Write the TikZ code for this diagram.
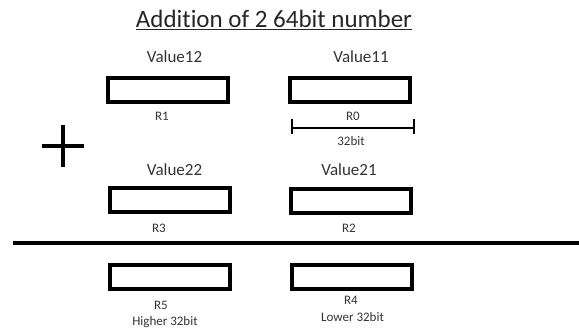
\documentclass[tikz,border=0pt]{standalone}
\usepackage{fontspec}
\setmainfont{Carlito}[Ligatures=NoCommon]
\begin{document}
\begin{tikzpicture}[x=1pt,y=-1pt,
  reg/.style={draw=black,line width=4pt,minimum width=120pt,minimum height=24pt,inner sep=0pt},
  lbl/.style={font=\fontsize{17}{19}\selectfont,text=black!80,inner sep=0pt},
  sml/.style={font=\fontsize{13}{15}\selectfont,text=black!80,inner sep=0pt}]
\useasboundingbox (0,0) rectangle (579,331);
\node[inner sep=0pt,font=\fontsize{25}{28}\selectfont,text=black!85] (title) at (274,20) {\underline{Addition of 2 64bit number}};
\node[lbl] (v12) at (174.5,57) {Value12};
\node[lbl] (v11) at (361,57) {Value11};
\node[reg] (r1) at (168,90) {};
\node[reg] (r0) at (350,90) {};
\node[sml] (l1) at (162,116) {R1};
\node[sml] (l0) at (353,116) {R0};
\coordinate (da) at (292,128);
\coordinate (db) at (414,128);
\draw[line width=1.5pt] (da) -- (db);
\draw[line width=1.5pt] ([yshift=-6]da) -- ([yshift=9]da);
\draw[line width=1.5pt] ([yshift=-6]db) -- ([yshift=9]db);
\node[sml] (w) at (351,141) {32bit};
\coordinate (pc) at (63,146);
\draw[line width=3.5pt] ([xshift=-21]pc) -- ([xshift=21]pc);
\draw[line width=3.5pt] ([yshift=-21]pc) -- ([yshift=21]pc);
\node[lbl] (v22) at (174.5,170) {Value22};
\node[lbl] (v21) at (349,170) {Value21};
\node[reg] (r3) at (169.5,200.5) {};
\node[reg] (r2) at (350.5,201) {};
\node[sml] (l3) at (159,228) {R3};
\node[sml] (l2) at (349,228) {R2};
\coordinate (la) at (13,243);
\coordinate (lb) at (579,243);
\draw[line width=4pt] (la) -- (lb);
\node[reg] (r5) at (170,277) {};
\node[reg] (r4) at (351.5,277) {};
\node[sml] (l5) at (161,305) {R5};
\node[sml] (h5) at (165,322) {Higher 32bit};
\node[sml] (l4) at (351,300) {R4};
\node[sml] (h4) at (352.5,317) {Lower 32bit};
\end{tikzpicture}
\end{document}
